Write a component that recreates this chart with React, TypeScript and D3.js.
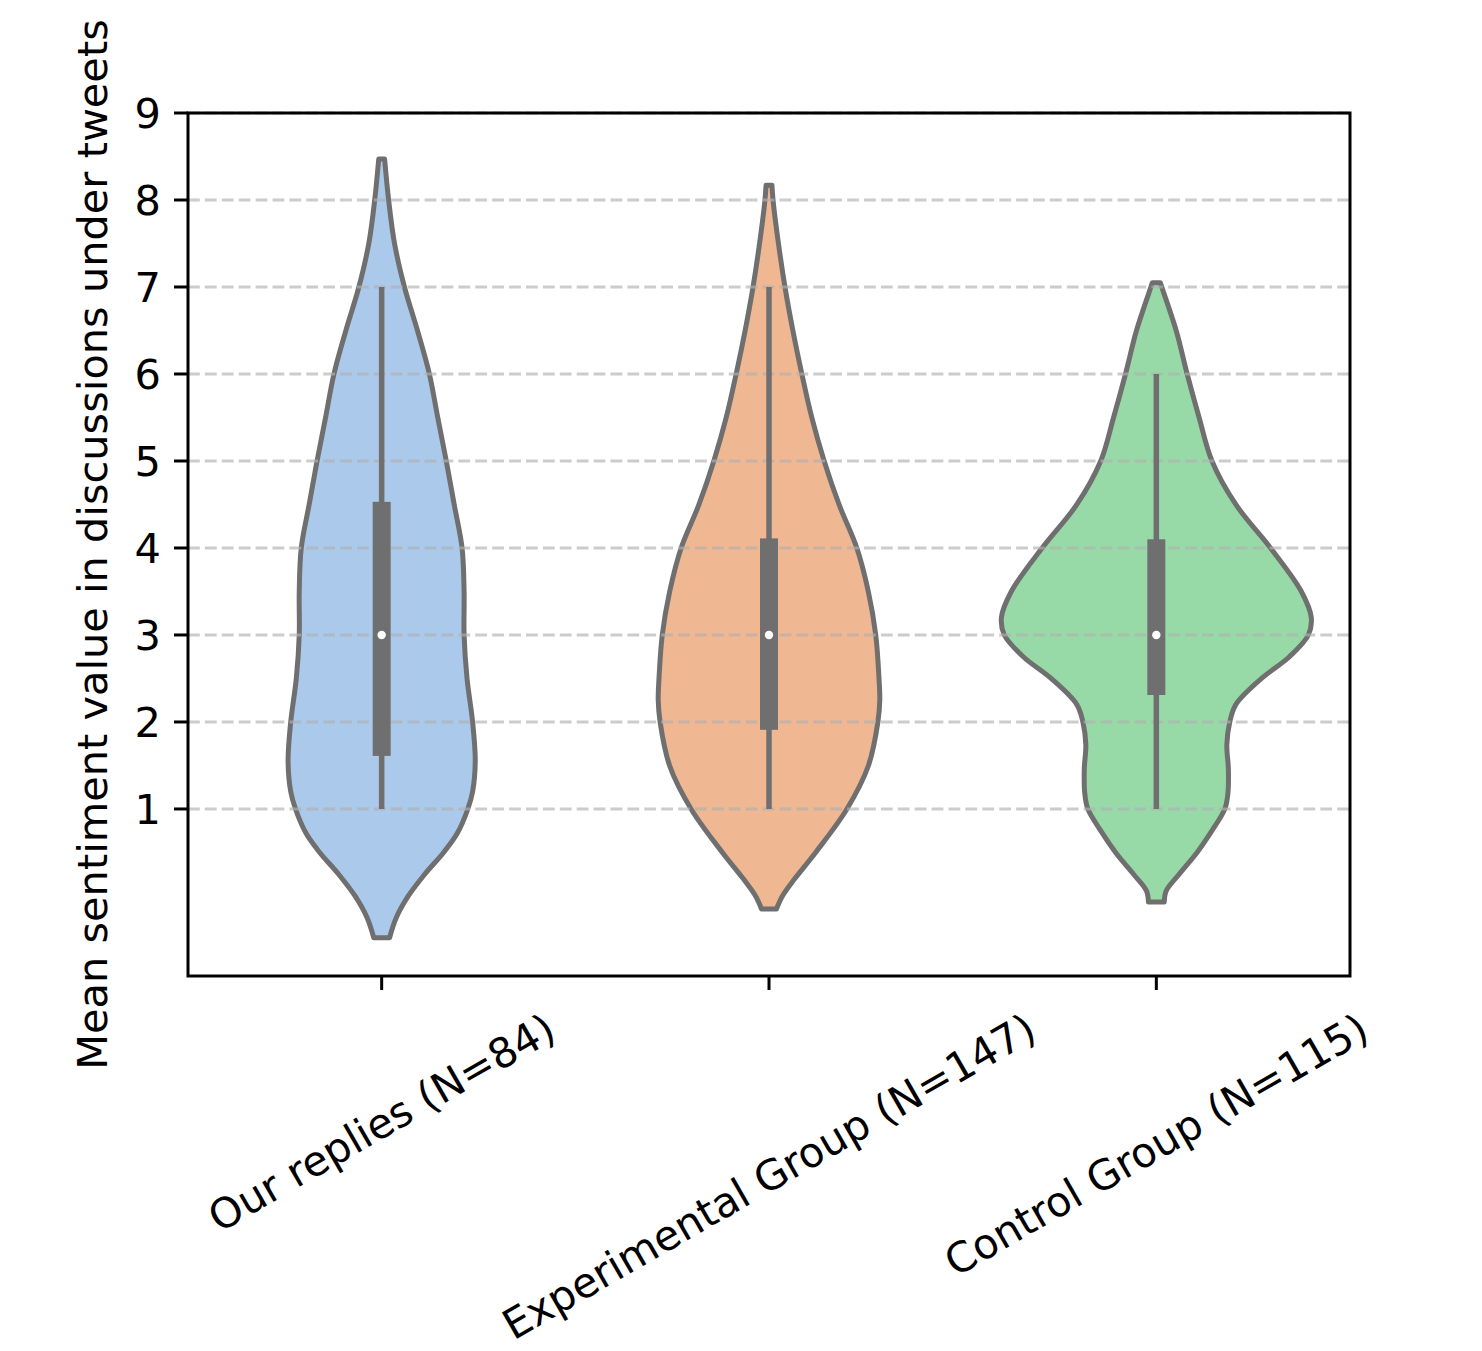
import React, { useRef, useEffect } from "react";
import * as d3 from "d3";

const categories = [
    "Our replies (N=84)",
    "Experimental Group (N=147)",
    "Control Group (N=115)",
];
const fillColors = ["#abc9ea", "#efb792", "#98daa7"];
const yTicks = [1, 2, 3, 4, 5, 6, 7, 8, 9];

// [sentiment value, relative density]
const densityOurReplies: [number, number][] = [
    [8.47, 0.019], [8.0, 0.045], [7.5, 0.083], [7.0, 0.147], [6.5, 0.231],
    [6.0, 0.308], [5.5, 0.362], [5.0, 0.417], [4.5, 0.468], [4.0, 0.519],
    [3.5, 0.532], [3.0, 0.532], [2.5, 0.551], [2.0, 0.587], [1.55, 0.604],
    [1.2, 0.587], [1.0, 0.556], [0.72, 0.488], [0.5, 0.4], [0.25, 0.278],
    [0.0, 0.172], [-0.25, 0.094], [-0.48, 0.051],
];
const densityExperimental: [number, number][] = [
    [8.17, 0.019], [8.0, 0.026], [7.5, 0.061], [7.0, 0.103], [6.5, 0.154],
    [6.0, 0.212], [5.5, 0.276], [5.0, 0.356], [4.5, 0.452], [4.0, 0.567],
    [3.5, 0.641], [3.0, 0.689], [2.5, 0.71], [2.25, 0.715], [2.0, 0.703],
    [1.5, 0.642], [1.0, 0.503], [0.5, 0.301], [0.2, 0.167], [0.0, 0.087],
    [-0.15, 0.048],
];
const densityControl: [number, number][] = [
    [7.05, 0.026], [7.0, 0.035], [6.5, 0.128], [6.0, 0.199], [5.5, 0.276],
    [5.0, 0.359], [4.5, 0.513], [4.0, 0.737], [3.5, 0.936], [3.2, 1.0],
    [3.0, 0.981], [2.75, 0.859], [2.5, 0.679], [2.2, 0.513], [2.0, 0.474],
    [1.74, 0.455], [1.46, 0.465], [1.18, 0.462], [1.0, 0.442], [0.75, 0.359],
    [0.5, 0.263], [0.25, 0.147], [0.06, 0.064], [-0.07, 0.051],
];
const densities = [densityOurReplies, densityExperimental, densityControl];

// inner box statistics
const quartile1 = [1.61, 1.91, 2.31];
const medians = [3, 3, 3];
const quartile3 = [4.53, 4.11, 4.1];
const whiskerLow = [1, 1, 1];
const whiskerHigh = [7, 7, 6];

const yLabel = "Mean sentiment value in discussions under tweets";

const App: React.FC = () => {
    const svgRef = useRef<SVGSVGElement | null>(null);

    useEffect(() => {
        const width = 1482;
        const height = 1351;
        const left = 188, right = 1350, top = 113, bottom = 976;
        const gray = "#6f6f6f";
        const font = "DejaVu Sans, sans-serif";
        const fs = 41.5;

        const svg = d3.select(svgRef.current!);
        svg.selectAll("*").remove();
        svg.attr("width", width).attr("height", height);

        const x = d3.scaleBand<string>().domain(categories).range([left, right]);
        const y = d3.scaleLinear().domain([-0.92, 9]).range([bottom, top]);
        const w = d3.scaleLinear().domain([0, 1]).range([0, x.bandwidth() * 0.4]);

        const center = (i: number) => x(categories[i])! + x.bandwidth() / 2;

        // violin bodies
        categories.forEach((c, i) => {
            const cx = center(i);
            const area = d3
                .area<[number, number]>()
                .curve(d3.curveCatmullRom.alpha(0.5))
                .y((d) => y(d[0]))
                .x0((d) => cx - w(d[1]))
                .x1((d) => cx + w(d[1]));
            svg.append("path")
                .attr("d", area(densities[i])!)
                .attr("fill", fillColors[i])
                .attr("stroke", gray)
                .attr("stroke-width", 5)
                .attr("stroke-linejoin", "round");
        });

        // dashed grid lines (drawn over the fills, under the box)
        svg.append("g")
            .selectAll("line")
            .data(yTicks)
            .join("line")
            .attr("x1", left)
            .attr("x2", right)
            .attr("y1", (d) => y(d))
            .attr("y2", (d) => y(d))
            .attr("stroke", "#b0b0b0")
            .attr("stroke-opacity", 0.65)
            .attr("stroke-width", 3)
            .attr("stroke-dasharray", "11.8,5.1");

        // inner boxes
        categories.forEach((c, i) => {
            const cx = center(i);
            svg.append("line")
                .attr("x1", cx).attr("x2", cx)
                .attr("y1", y(whiskerLow[i])).attr("y2", y(whiskerHigh[i]))
                .attr("stroke", gray)
                .attr("stroke-width", 5.5);
            svg.append("rect")
                .attr("x", cx - 9)
                .attr("width", 18)
                .attr("y", y(quartile3[i]))
                .attr("height", y(quartile1[i]) - y(quartile3[i]))
                .attr("fill", gray);
            svg.append("circle")
                .attr("cx", cx)
                .attr("cy", y(medians[i]))
                .attr("r", 4.2)
                .attr("fill", "white");
        });

        // frame
        svg.append("rect")
            .attr("x", left).attr("y", top)
            .attr("width", right - left).attr("height", bottom - top)
            .attr("fill", "none")
            .attr("stroke", "black")
            .attr("stroke-width", 3);

        // y axis ticks and labels
        const yAxis = svg.append("g");
        yAxis.selectAll("line")
            .data(yTicks)
            .join("line")
            .attr("x1", left - 14).attr("x2", left)
            .attr("y1", (d) => y(d)).attr("y2", (d) => y(d))
            .attr("stroke", "black").attr("stroke-width", 3);
        yAxis.selectAll("text")
            .data(yTicks)
            .join("text")
            .attr("x", left - 27)
            .attr("y", (d) => y(d))
            .attr("dy", "0.36em")
            .attr("text-anchor", "end")
            .style("font-family", font)
            .style("font-size", `${fs}px`)
            .text((d) => d);

        // x axis ticks and rotated labels
        const xAxis = svg.append("g");
        categories.forEach((c, i) => {
            const cx = center(i);
            xAxis.append("line")
                .attr("x1", cx).attr("x2", cx)
                .attr("y1", bottom).attr("y2", bottom + 14)
                .attr("stroke", "black").attr("stroke-width", 3);
            const g = xAxis.append("g");
            const t = g.append("text")
                .attr("text-anchor", "middle")
                .attr("y", fs * 0.346)
                .style("font-family", font)
                .style("font-size", `${fs}px`)
                .text(c);
            const len = (t.node() as SVGTextElement).getComputedTextLength();
            const half = (len / 2) * Math.sin(Math.PI / 6) + ((fs * 1.164) / 2) * Math.cos(Math.PI / 6);
            g.attr("transform", `translate(${cx},${bottom + 28 + half}) rotate(-30)`);
        });

        // y axis title
        svg.append("text")
            .attr("transform", `translate(107,${(top + bottom) / 2}) rotate(-90)`)
            .attr("text-anchor", "middle")
            .style("font-family", font)
            .style("font-size", `${fs}px`)
            .text(yLabel);
    }, []);

    return (
        <div>
            <svg ref={svgRef} style={{ position: "absolute", left: 0, top: 0, background: "white" }} />
        </div>
    );
};

export default App;
